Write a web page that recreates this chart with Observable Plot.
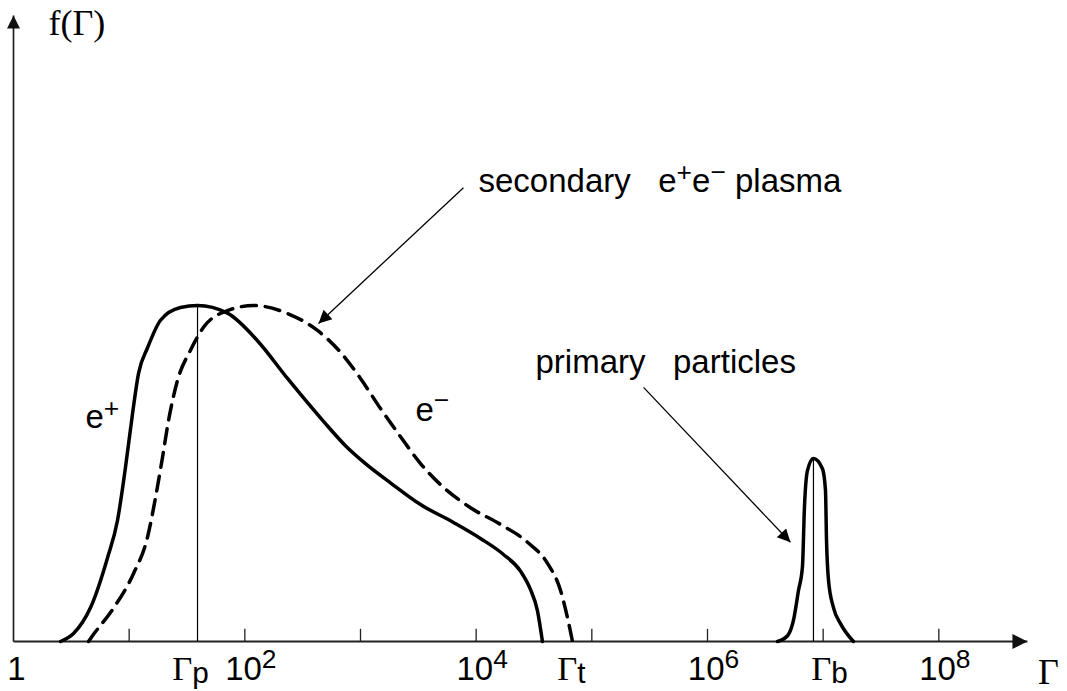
<!DOCTYPE html>
<html>
<head>
<meta charset="utf-8">
<script src="https://cdn.jsdelivr.net/npm/d3@7"></script>
<script src="https://cdn.jsdelivr.net/npm/@observablehq/plot@0.6"></script>
<style>
  html, body { margin: 0; padding: 0; background: white; }
  #chart svg { display: block; }
</style>
</head>
<body>
<div id="chart"></div>
<script>
// x values are log10(Γ); y values are f(Γ) in arbitrary units (0–100)

// secondary positrons e+ (solid)
const ePlusLg = [0.406, 0.519, 0.666, 0.813, 0.899, 0.968, 1.029, 1.081, 1.159, 1.271, 1.444, 1.591, 1.850, 2.109, 2.369, 2.680, 2.870, 3.043, 3.259, 3.519, 3.804, 4.037, 4.236, 4.383, 4.470, 4.530, 4.573];
const ePlusF  = [0, 1.25, 5.3, 13.1, 18.9, 27.2, 35.6, 41.9, 45.9, 50.2, 52.2, 52.5, 51.3, 47.0, 41.1, 34.4, 30.6, 27.8, 24.8, 21.4, 18.6, 16.1, 13.6, 11.0, 8.1, 4.8, 0];

// secondary electrons e− (dashed)
const eMinusLg = [0.648, 0.683, 0.864, 1.037, 1.158, 1.228, 1.288, 1.340, 1.418, 1.530, 1.643, 1.850, 2.075, 2.369, 2.628, 2.827, 3.000, 3.173, 3.346, 3.519, 3.692, 3.951, 4.210, 4.444, 4.617, 4.729, 4.789, 4.833];
const eMinusF  = [0, 0.9, 5.2, 10.6, 16.25, 22.5, 28.75, 34.5, 40.8, 45.5, 49.1, 51.7, 52.5, 51.25, 48.6, 45.2, 41.1, 36.4, 32.0, 27.8, 24.5, 20.9, 18.3, 15.5, 12.2, 8.0, 3.75, 0];

// primary particles (narrow peak)
const primLg = [6.605, 6.692, 6.743, 6.787, 6.821, 6.838, 6.864, 6.916, 6.994, 7.020, 7.029, 7.046, 7.089, 7.150, 7.262];
const primF  = [0, 0.9, 3.3, 8.0, 11.7, 20.9, 26.7, 28.6, 27.0, 23.6, 15.8, 9.6, 5.3, 2.8, 0];

// characteristic Lorentz factors (log10)
const markNames = ["Γ_{p}", "Γ_{t}", "Γ_{b}"];
const markLg    = [1.591, 4.824, 6.916];
const markPeakF = [52.5, null, 28.6];

// axis ticks (decades) and labels
const tickDecades = [1, 2, 3, 4, 5, 6, 7, 8];
const tickLabelLg = [0, 2, 4, 6, 8];
const tickLabels  = ["1", "10^{2}", "10^{4}", "10^{6}", "10^{8}"];

// axis arrows: [x1, y1, x2, y2]
const axisArrows = [[0, 0, 8.766, 0], [0, 0, 0, 97.8]];

// annotation arrows: [x1, y1, x2, y2]
const annArrows = [[3.890, 70.9, 2.637, 49.7], [5.447, 39.7, 6.717, 15.5]];

// annotation texts
const annTexts = ["secondary\u00a0\u00a0\u00a0e^{+}e^{−} plasma", "primary\u00a0\u00a0\u00a0particles", "e^{+}", "e^{−}"];
const annLg    = [4.020, 4.513, 0.622, 3.475];
const annF     = [70.2, 41.9, 33.3, 34.5];

const toXY = (xs, ys) => xs.map((x, i) => ({x, y: ys[i]}));
const ePlus = toXY(ePlusLg, ePlusF);
const eMinus = toXY(eMinusLg, eMinusF);
const prim = toXY(primLg, primF);
const marksTable = markNames.map((n, i) => ({name: n, x: markLg[i], peak: markPeakF[i]}));
const peakRules = marksTable.filter(d => d.peak != null);
const tickTable = tickLabelLg.map((x, i) => ({x, label: tickLabels[i]}));
const annTable = annTexts.map((t, i) => ({text: t, x: annLg[i], y: annF[i]}));
const toLink = a => a.map(([x1, y1, x2, y2]) => ({x1, y1, x2, y2}));

const SANS = "'Liberation Sans', Arial, Helvetica, sans-serif";
const SERIF = "'Liberation Serif', 'Times New Roman', serif";

const chart = Plot.plot({
  width: 1067,
  height: 691,
  marginLeft: 13,
  marginRight: 13,
  marginTop: 1,
  marginBottom: 50,
  x: {type: "linear", domain: [0, 9], axis: null},
  y: {domain: [0, 100], axis: null},
  style: {fontFamily: SANS, background: "white", overflow: "visible", color: "black"},
  marks: [
    // axes with filled arrowheads
    Plot.link(toLink(axisArrows.slice(0, 1)), {x1: "x1", y1: "y1", x2: "x2", y2: "y2", stroke: "#222", strokeWidth: 2, className: "axis-x"}),
    Plot.link(toLink(axisArrows.slice(1)), {x1: "x1", y1: "y1", x2: "x2", y2: "y2", stroke: "#222", strokeWidth: 1.7, className: "axis-y"}),
    // decade ticks
    Plot.ruleX(tickDecades, {x: d => d, y1: 0, y2: 1.9, stroke: "#222", strokeWidth: 1.3}),
    // Γp and Γb vertical lines
    Plot.ruleX(peakRules, {x: "x", y1: 0, y2: "peak", stroke: "black", strokeWidth: 1.2}),
    // curves
    Plot.line(ePlus, {x: "x", y: "y", curve: "monotone-x", stroke: "black", strokeWidth: 3.5}),
    Plot.line(eMinus, {x: "x", y: "y", curve: "monotone-x", stroke: "black", strokeWidth: 3.5, strokeDasharray: "15,9"}),
    Plot.line(prim, {x: "x", y: "y", curve: "monotone-x", stroke: "black", strokeWidth: 3.5}),
    // annotation arrows
    Plot.link(toLink(annArrows), {x1: "x1", y1: "y1", x2: "x2", y2: "y2", stroke: "black", strokeWidth: 1.3, className: "ann-arrow"}),
    // tick labels
    Plot.text(tickTable, {x: "x", y: 0, text: "label", fontSize: 33, lineAnchor: "bottom", dy: 38, className: "rich tick-lab"}),
    // Γ marker labels
    Plot.text(marksTable, {x: "x", y: 0, text: "name", fontSize: 33, lineAnchor: "bottom", dy: 38, className: "rich mark-lab"}),
    // axis titles
    Plot.text(["Γ"], {x: 9, y: 0, text: d => d, fontSize: 36, fontFamily: SERIF, lineAnchor: "bottom", dy: 42, dx: -6}),
    Plot.text(["f(Γ)"], {x: 0.303, y: 94.7, text: d => d, fontSize: 36, fontFamily: SERIF, lineAnchor: "bottom", textAnchor: "start"}),
    // annotations
    Plot.text(annTable, {x: "x", y: "y", text: "text", fontSize: 33, lineAnchor: "bottom", textAnchor: "start", className: "rich ann-lab"})
  ]
});

document.getElementById("chart").appendChild(chart);
const svg = d3.select(chart);

// filled arrowhead markers
const defs = svg.insert("defs", ":first-child");
function addMarker(id, w, h, color) {
  defs.append("marker")
    .attr("id", id).attr("viewBox", "0 0 10 10").attr("refX", 10).attr("refY", 5)
    .attr("markerWidth", w).attr("markerHeight", h)
    .attr("markerUnits", "userSpaceOnUse").attr("orient", "auto")
    .append("path").attr("d", "M0,0L10,5L0,10Z").attr("fill", color);
}
addMarker("headX", 20, 15, "#111");
addMarker("headY", 17, 13, "#111");
addMarker("headAnn", 20, 13, "#000");
svg.selectAll(".axis-x path, .axis-x line").attr("marker-end", "url(#headX)");
svg.selectAll(".axis-y path, .axis-y line").attr("marker-end", "url(#headY)");
svg.selectAll(".ann-arrow path, .ann-arrow line").attr("marker-end", "url(#headAnn)");

// nudge composite labels horizontally so they sit like the original
function nudge(sel, offsets) {
  svg.selectAll(sel).each(function (d, i) {
    const t = d3.select(this);
    const prev = t.attr("transform") || "";
    t.attr("transform", `translate(${offsets[i] || 0},0) ${prev}`);
  });
}
nudge(".tick-lab text", [3, 6, 6, 6, 6]);
nudge(".mark-lab text", [-7, 0, 16]);

// rich text: ^{sup}, _{sub}, serif Γ
svg.selectAll(".rich text").each(function () {
  const el = this;
  const base = parseFloat(getComputedStyle(el).fontSize) || 32;
  const s = el.textContent;
  el.textContent = "";
  const re = /\^\{([^}]*)\}|_\{([^}]*)\}|(Γ)|([^\^_Γ]+)/g;
  let m, off = 0;
  while ((m = re.exec(s))) {
    const ts = d3.select(el).append("tspan");
    let target = 0;
    if (m[1] != null) { ts.text(m[1]).attr("font-size", base * 0.8); target = -base * 0.34; }
    else if (m[2] != null) { ts.text(m[2]).attr("font-size", base * 0.9); target = base * 0.12; }
    else if (m[3] != null) { ts.text(m[3]).attr("font-family", SERIF).attr("font-size", base * 1.05); }
    else ts.text(m[4]);
    if (target - off !== 0) ts.attr("dy", target - off);
    off = target;
  }
});
</script>
</body>
</html>
